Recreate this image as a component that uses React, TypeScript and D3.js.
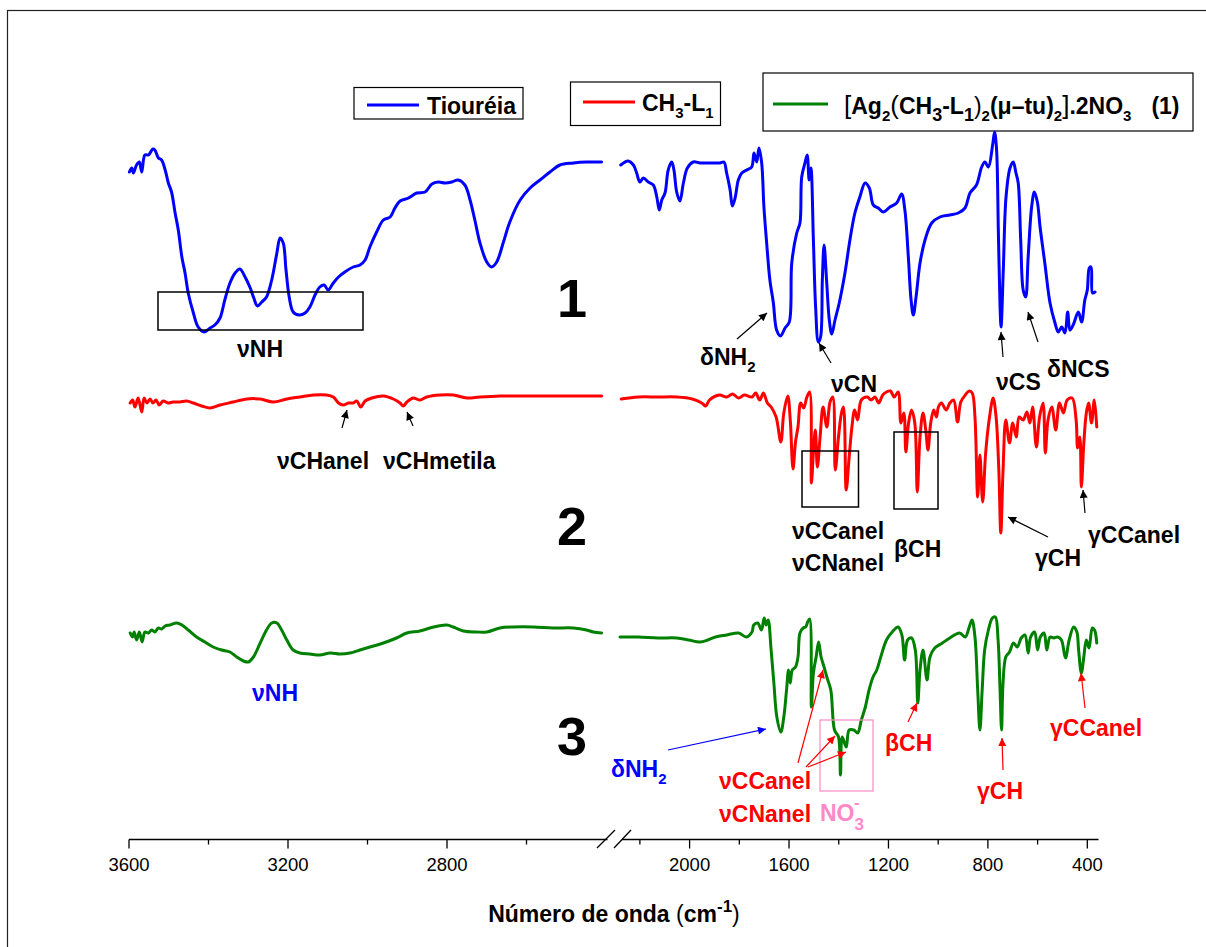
import React from "react";
import * as d3 from "d3";

type Pt = [number, number];

// [wavenumber (cm-1), transmittance (a.u., stacked)]
const tioureia: Pt[] = [
  [3599, 668], [3593, 672], [3589, 667], [3581, 675], [3574, 678], [3568, 668], [3560, 685], [3551, 685],
  [3547, 687], [3540, 691], [3535, 690], [3526, 682], [3518, 680], [3509, 670], [3501, 657], [3493, 648],
  [3484, 627], [3476, 610], [3467, 583], [3459, 567], [3451, 547], [3438, 527], [3426, 513], [3411, 508],
  [3396, 512], [3384, 515], [3371, 522], [3359, 540], [3346, 557], [3333, 567], [3321, 571], [3308, 563],
  [3296, 553], [3286, 542], [3277, 534], [3266, 538], [3254, 543], [3241, 560], [3228, 587], [3220, 602],
  [3212, 597], [3205, 570], [3197, 543], [3187, 528], [3172, 525], [3157, 527], [3145, 533], [3132, 545],
  [3120, 553], [3109, 555], [3099, 550], [3086, 557], [3073, 563], [3057, 568], [3036, 573], [3019, 575],
  [3006, 580], [2994, 593], [2977, 608], [2960, 620], [2943, 623], [2931, 632], [2918, 639], [2897, 642],
  [2876, 647], [2855, 648], [2838, 656], [2822, 658], [2805, 657], [2788, 658], [2772, 660], [2755, 655],
  [2742, 640], [2730, 620], [2717, 597], [2700, 578], [2688, 573], [2675, 578], [2658, 598], [2642, 618],
  [2616, 640], [2591, 652], [2566, 660], [2541, 668], [2516, 675], [2482, 677], [2449, 678], [2411, 678],
  [2277, 675], [2247, 679], [2226, 675], [2213, 667], [2200, 658], [2186, 662], [2166, 658], [2146, 655],
  [2132, 643], [2122, 630], [2112, 640], [2099, 647], [2086, 670], [2072, 678], [2063, 670], [2052, 648],
  [2039, 639], [2025, 657], [2009, 672], [1985, 678], [1958, 677], [1931, 677], [1905, 677], [1878, 677],
  [1862, 678], [1851, 667], [1837, 650], [1828, 634], [1817, 642], [1804, 660], [1790, 667], [1770, 670],
  [1750, 673], [1741, 687], [1730, 678], [1721, 692], [1710, 677], [1701, 633], [1690, 597], [1677, 560],
  [1663, 537], [1650, 510], [1634, 504], [1616, 512], [1599, 518], [1589, 577], [1569, 607], [1556, 617],
  [1549, 663], [1536, 677], [1527, 685], [1519, 660], [1512, 672], [1502, 600], [1493, 533], [1482, 498],
  [1473, 503], [1466, 560], [1459, 595], [1449, 560], [1438, 520], [1428, 506], [1415, 520], [1398, 537],
  [1375, 567], [1355, 600], [1335, 627], [1315, 643], [1294, 657], [1277, 652], [1261, 635], [1241, 632],
  [1221, 628], [1194, 633], [1167, 637], [1147, 646], [1134, 630], [1120, 583], [1109, 540], [1100, 525],
  [1089, 543], [1073, 577], [1053, 600], [1026, 617], [993, 623], [953, 625], [919, 627], [892, 632],
  [872, 647], [846, 655], [825, 673], [812, 678], [798, 673], [781, 695], [773, 708], [765, 690],
  [758, 610], [751, 533], [747, 513], [738, 570], [727, 643], [711, 672], [698, 678], [687, 667],
  [678, 657], [668, 600], [658, 550], [648, 543], [638, 583], [624, 633], [613, 648], [601, 638],
  [590, 613], [571, 577], [550, 537], [530, 517], [517, 508], [503, 513], [490, 507], [479, 528],
  [470, 510], [457, 515], [436, 528], [423, 518], [410, 540], [400, 550], [392, 572], [385, 573],
  [379, 547], [369, 548],
];

const ch3L1: Pt[] = [
  [3597, 437], [3591, 440], [3585, 433], [3577, 442], [3568, 428], [3562, 442], [3555, 437], [3547, 441],
  [3540, 437], [3532, 440], [3524, 435], [3514, 439], [3501, 437], [3489, 438], [3472, 438], [3455, 439],
  [3438, 437], [3417, 434], [3396, 432], [3371, 435], [3338, 438], [3304, 441], [3270, 441], [3237, 438],
  [3203, 441], [3170, 443], [3136, 445], [3103, 445], [3086, 443], [3073, 437], [3061, 435], [3048, 437],
  [3036, 437], [3027, 439], [3017, 433], [3006, 439], [2989, 442], [2960, 444], [2935, 441], [2918, 437],
  [2910, 434], [2901, 438], [2885, 442], [2868, 440], [2851, 443], [2818, 445], [2784, 445], [2750, 442],
  [2717, 443], [2667, 444], [2616, 444], [2566, 444], [2516, 444], [2465, 444], [2411, 444],
  [2275, 441], [2206, 443], [2128, 443], [2051, 443], [1989, 441], [1951, 437], [1935, 434], [1920, 440],
  [1881, 445], [1850, 443], [1827, 446], [1803, 442], [1780, 445], [1749, 443], [1734, 447], [1718, 440],
  [1703, 447], [1687, 437], [1672, 433], [1652, 423], [1633, 398], [1621, 427], [1605, 444], [1595, 420],
  [1584, 371], [1574, 398], [1564, 413], [1553, 437], [1541, 432], [1528, 443], [1517, 448], [1510, 357],
  [1502, 387], [1494, 410], [1486, 373], [1475, 403], [1463, 433], [1448, 413], [1435, 438], [1424, 443],
  [1414, 370], [1401, 403], [1389, 427], [1381, 433], [1370, 350], [1358, 383], [1347, 413], [1336, 430],
  [1324, 420], [1309, 440], [1285, 443], [1270, 440], [1254, 443], [1239, 437], [1223, 445], [1208, 448],
  [1192, 449], [1177, 443], [1161, 448], [1150, 417], [1138, 427], [1130, 388], [1119, 417], [1107, 430],
  [1094, 417], [1084, 348], [1073, 403], [1061, 427], [1050, 410], [1041, 390], [1030, 417], [1018, 430],
  [1007, 423], [999, 433], [987, 437], [968, 430], [953, 437], [938, 440], [922, 418], [909, 438],
  [891, 445], [875, 449], [863, 447], [852, 423], [841, 343], [832, 385], [821, 338], [809, 387],
  [795, 420], [779, 442], [767, 423], [756, 370], [748, 307], [739, 370], [728, 420], [713, 397],
  [700, 417], [686, 403], [674, 423], [658, 420], [643, 428], [631, 417], [620, 433], [605, 393],
  [592, 423], [578, 437], [569, 387], [558, 420], [543, 433], [527, 410], [512, 437], [496, 427],
  [481, 440], [461, 442], [445, 420], [439, 392], [430, 403], [424, 353], [414, 397], [404, 427],
  [395, 437], [383, 417], [372, 440], [362, 413],
];

const complexo: Pt[] = [
  [3597, 207], [3591, 203], [3587, 208], [3581, 200], [3574, 208], [3567, 198], [3560, 208], [3551, 207],
  [3543, 210], [3535, 208], [3526, 212], [3518, 211], [3509, 214], [3497, 215], [3480, 217], [3467, 215],
  [3451, 210], [3430, 203], [3409, 198], [3388, 193], [3367, 190], [3346, 188], [3329, 183], [3312, 179],
  [3300, 178], [3287, 183], [3270, 197], [3254, 210], [3241, 217], [3228, 217], [3216, 210], [3203, 200],
  [3187, 190], [3170, 187], [3145, 186], [3120, 185], [3094, 187], [3069, 186], [3044, 187], [3019, 190],
  [2994, 193], [2960, 197], [2927, 202], [2901, 207], [2868, 209], [2834, 213], [2801, 215], [2784, 213],
  [2759, 209], [2725, 208], [2700, 208], [2667, 212], [2633, 213], [2583, 213], [2533, 212], [2482, 212],
  [2449, 210], [2432, 208], [2411, 207],
  [2280, 203], [2206, 203], [2128, 202], [2051, 202], [2004, 200], [1958, 198], [1927, 200], [1896, 203],
  [1850, 205], [1803, 207], [1772, 203], [1749, 208], [1742, 215], [1726, 217], [1711, 210], [1700, 222],
  [1692, 215], [1684, 220], [1672, 190], [1661, 157], [1649, 123], [1633, 108], [1621, 123], [1610, 150],
  [1602, 170], [1595, 157], [1587, 170], [1574, 173], [1564, 183], [1556, 207], [1543, 212], [1533, 213],
  [1525, 218], [1517, 221], [1510, 133], [1502, 167], [1491, 183], [1481, 198], [1471, 183], [1459, 173],
  [1448, 163], [1432, 150], [1417, 110], [1401, 103], [1393, 65], [1386, 103], [1370, 93], [1358, 110],
  [1339, 110], [1324, 107], [1309, 120], [1293, 133], [1278, 150], [1262, 163], [1247, 170], [1231, 183],
  [1208, 200], [1185, 208], [1161, 213], [1146, 205], [1135, 180], [1123, 200], [1107, 202], [1092, 190],
  [1082, 137], [1073, 170], [1061, 190], [1045, 160], [1033, 183], [1014, 192], [983, 197], [953, 202],
  [914, 207], [891, 203], [875, 213], [864, 220], [852, 203], [841, 150], [832, 110], [823, 150],
  [813, 190], [798, 210], [782, 222], [770, 223], [759, 200], [751, 150], [745, 110], [739, 157],
  [728, 183], [713, 188], [697, 197], [682, 193], [666, 202], [651, 205], [638, 187], [628, 203],
  [612, 208], [600, 190], [589, 203], [574, 207], [563, 190], [550, 203], [535, 202], [519, 203],
  [504, 200], [488, 182], [473, 200], [455, 213], [442, 208], [435, 190], [424, 167], [414, 183],
  [404, 200], [393, 192], [380, 212], [371, 210], [362, 197],
];

const leftTicks = [3600, 3200, 2800];
const leftMinor = [3400, 3000, 2600];
const rightTicks = [2000, 1600, 1200, 800, 400];
const rightMinor = [2200, 1800, 1400, 1000, 600];

const BLUE = "#0000ff";
const RED = "#ff0000";
const GREEN = "#008000";
const PINK = "#ff88c8";
const FONT = "'Liberation Sans', Arial, sans-serif";

const xLeft = d3.scaleLinear().domain([3600, 2400]).range([129, 606]);
const xRight = d3.scaleLinear().domain([2280, 355]).range([620, 1098.5]);
const y = d3.scaleLinear().domain([0, 800]).range([840, 40]);

const curve = d3.curveCatmullRom.alpha(0.5);
const lineL = d3.line<Pt>().x((d) => xLeft(d[0])).y((d) => y(d[1])).curve(curve);
const lineR = d3.line<Pt>().x((d) => xRight(d[0])).y((d) => y(d[1])).curve(curve);

const Spectrum = ({ data, color }: { data: Pt[]; color: string }) => (
  <g fill="none" stroke={color} strokeWidth={3} strokeLinejoin="round" strokeLinecap="round">
    <path d={lineL(data.filter((d) => d[0] > 2350)) || ""} />
    <path d={lineR(data.filter((d) => d[0] <= 2350)) || ""} />
  </g>
);

const Arrow = ({ x1, y1, x2, y2, color = "#000" }: any) => {
  const id = color === "#000" ? "ah-k" : color === RED ? "ah-r" : "ah-b";
  return <line x1={x1} y1={y1} x2={x2} y2={y2} stroke={color} strokeWidth={1.2} markerEnd={`url(#${id})`} />;
};

const Label = ({ x, y: yy, color = "#000", children }: any) => (
  <text x={x} y={yy} fill={color} fontSize={23} fontWeight="bold" fontFamily={FONT}>
    {children}
  </text>
);

const Sub = ({ children, size = 15 }: any) => (
  <tspan fontSize={size} dy={7}>{children}</tspan>
);

export default function App() {
  const axisY = 839.5;
  return (
    <svg width={1206} height={947} style={{ position: "absolute", left: 0, top: 0, background: "#fff" }}>
      <defs>
        {[["ah-k", "#000"], ["ah-r", RED], ["ah-b", BLUE]].map(([id, c]) => (
          <marker key={id} id={id} viewBox="0 0 10 10" refX={10} refY={5} markerWidth={11} markerHeight={8}
            markerUnits="userSpaceOnUse" orient="auto">
            <path d="M0,0 L10,5 L0,10 z" fill={c} />
          </marker>
        ))}
      </defs>

      {/* outer frame */}
      <rect x={7.5} y={10.5} width={1220} height={960} fill="none" stroke="#222" strokeWidth={1.2} />

      {/* legends */}
      <g fontFamily={FONT} fontWeight="bold" fontSize={23}>
        <rect x={354} y={87.5} width={169} height={31.5} fill="#fff" stroke="#000" strokeWidth={1.2} />
        <line x1={367} x2={419} y1={105} y2={105} stroke={BLUE} strokeWidth={3} />
        <text x={427} y={114}>Tiouréia</text>

        <rect x={570.5} y={82} width={150} height={43.5} fill="#fff" stroke="#000" strokeWidth={1.2} />
        <line x1={583} x2={635} y1={102} y2={102} stroke={RED} strokeWidth={3} />
        <text x={642} y={111}>CH<Sub>3</Sub><tspan dy={-7}>-L</tspan><Sub>1</Sub></text>

        <rect x={763} y={73} width={430} height={58} fill="#fff" stroke="#000" strokeWidth={1.2} />
        <line x1={773} x2={828} y1={104} y2={104} stroke={GREEN} strokeWidth={3} />
        <text x={844} y={114}>
          <tspan fontWeight="normal" fontSize={26}>[</tspan>Ag<Sub>2</Sub>
          <tspan dy={-7} fontWeight="normal" fontSize={26}>(</tspan>CH<Sub size={18}>3</Sub>
          <tspan dy={-7}>-L</tspan><Sub size={18}>1</Sub>
          <tspan dy={-7} fontWeight="normal">)</tspan><Sub>2</Sub>
          <tspan dy={-7}>(μ–tu)</tspan><Sub>2</Sub>
          <tspan dy={-7} fontWeight="normal" fontSize={26}>]</tspan>.2NO<Sub>3</Sub>
          <tspan dy={-7} dx={20}>(1)</tspan>
        </text>
      </g>

      <Spectrum data={tioureia} color={BLUE} />
      <Spectrum data={ch3L1} color={RED} />
      <Spectrum data={complexo} color={GREEN} />

      {/* boxes */}
      <g fill="none" strokeWidth={1.5}>
        <rect x={158} y={292} width={205} height={38} stroke="#000" />
        <rect x={802} y={451} width={56.5} height={56} stroke="#000" />
        <rect x={894} y={432} width={44} height={77} stroke="#000" />
        <rect x={820} y={720} width={53} height={71} stroke={PINK} strokeWidth={1.2} />
      </g>

      {/* sample numbers */}
      <g fontFamily={FONT} fontWeight="bold" fontSize={54} textAnchor="middle">
        <text x={572} y={317}>1</text>
        <text x={572} y={545}>2</text>
        <text x={572} y={755}>3</text>
      </g>

      {/* annotations: thiourea */}
      <Label x={237} y={357}>νNH</Label>
      <Label x={700} y={365}>δNH<Sub>2</Sub></Label>
      <Label x={831} y={392}>νCN</Label>
      <Label x={996} y={390}>νCS</Label>
      <Label x={1047} y={377}>δNCS</Label>
      <Arrow x1={737} y1={339} x2={767} y2={313} />
      <Arrow x1={831} y1={363} x2={819} y2={343} />
      <Arrow x1={1003} y1={357} x2={1001} y2={332} />
      <Arrow x1={1038} y1={342} x2={1028} y2={312} />

      {/* annotations: CH3-L1 */}
      <Label x={277} y={469}>νCHanel</Label>
      <Label x={383} y={469}>νCHmetila</Label>
      <Label x={792} y={539}>νCCanel</Label>
      <Label x={792} y={571}>νCNanel</Label>
      <Label x={894} y={557}>βCH</Label>
      <Label x={1035} y={566}>γCH</Label>
      <Label x={1088} y={543}>γCCanel</Label>
      <Arrow x1={342} y1={428} x2={347} y2={410} />
      <Arrow x1={413} y1={426} x2={407} y2={412} />
      <Arrow x1={1048} y1={537} x2={1008} y2={517} />
      <Arrow x1={1085} y1={513} x2={1083} y2={490} />

      {/* annotations: complex */}
      <Label x={252} y={701} color={BLUE}>νNH</Label>
      <Label x={611} y={777} color={BLUE}>δNH<Sub>2</Sub></Label>
      <Label x={719} y={789} color={RED}>νCCanel</Label>
      <Label x={719} y={822} color={RED}>νCNanel</Label>
      <Label x={820} y={821} color={PINK}>NO<tspan fontSize={17} dy={9}>3</tspan><tspan fontSize={17} dx={-10} dy={-22}>-</tspan></Label>
      <Label x={885} y={751} color={RED}>βCH</Label>
      <Label x={977} y={799} color={RED}>γCH</Label>
      <Label x={1050} y={736} color={RED}>γCCanel</Label>
      <Arrow x1={668} y1={750} x2={766} y2={729} color={BLUE} />
      <Arrow x1={798} y1={763} x2={823} y2={670} color={RED} />
      <Arrow x1={806} y1={767} x2={835} y2={736} color={RED} />
      <Arrow x1={808} y1={767} x2={846} y2={752} color={RED} />
      <Arrow x1={908} y1={722} x2={917} y2={703} color={RED} />
      <Arrow x1={1003} y1={770} x2={1002} y2={738} color={RED} />
      <Arrow x1={1085} y1={708} x2={1081} y2={673} color={RED} />

      {/* broken x axis */}
      <g stroke="#000" strokeWidth={1.3} fill="none">
        <line x1={xLeft(3600)} x2={607.5} y1={axisY} y2={axisY} />
        <line x1={622} x2={xRight(355)} y1={axisY} y2={axisY} />
        <line x1={597} y1={848} x2={615} y2={830} />
        <line x1={614} y1={848} x2={631} y2={830} />
        {leftTicks.map((t) => <line key={t} x1={xLeft(t)} x2={xLeft(t)} y1={axisY} y2={axisY + 9} />)}
        {leftMinor.map((t) => <line key={t} x1={xLeft(t)} x2={xLeft(t)} y1={axisY} y2={axisY + 5} />)}
        {rightTicks.map((t) => <line key={t} x1={xRight(t)} x2={xRight(t)} y1={axisY} y2={axisY + 9} />)}
        {rightMinor.map((t) => <line key={t} x1={xRight(t)} x2={xRight(t)} y1={axisY} y2={axisY + 5} />)}
      </g>
      <g fontFamily={FONT} fontSize={18.5} textAnchor="middle">
        {leftTicks.map((t) => <text key={t} x={xLeft(t)} y={871}>{t}</text>)}
        {rightTicks.map((t) => <text key={t} x={xRight(t)} y={871}>{t}</text>)}
      </g>
      <text x={614} y={922} textAnchor="middle" fontFamily={FONT} fontSize={23} fontWeight="bold">
        Número de onda <tspan fontWeight="normal">(</tspan>cm<tspan fontSize={17} dy={-10}>-1</tspan>
        <tspan dy={10} fontWeight="normal">)</tspan>
      </text>
    </svg>
  );
}
